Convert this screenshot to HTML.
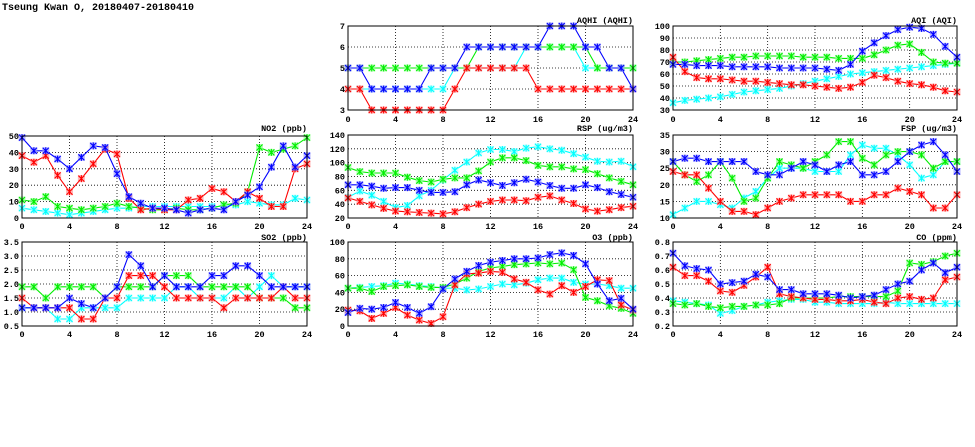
<!DOCTYPE html>
<html><head><meta charset="utf-8"><style>
html,body{margin:0;padding:0;background:#fff;width:975px;height:447px;overflow:hidden}
svg{display:block}
text{font-family:"Liberation Mono",monospace;font-weight:bold;font-size:8.5px;fill:#000}
.t{font-size:10px}
.xl{text-anchor:middle}
.yl{text-anchor:end}
.ti{text-anchor:end}
</style></head><body>
<svg id="s" width="975" height="447" viewBox="0 0 975 447">
<text class="t" x="2" y="10">Tseung Kwan O, 20180407-20180410</text>
<g id="plots"></g>
<text class="ti" x="307" y="131">NO2 (ppb)</text>
<text class="ti" x="307" y="240">SO2 (ppb)</text>
<text class="ti" x="633" y="23">AQHI (AQHI)</text>
<text class="ti" x="633" y="131">RSP (ug/m3)</text>
<text class="ti" x="633" y="240">O3 (ppb)</text>
<text class="ti" x="957" y="23">AQI (AQI)</text>
<text class="ti" x="957" y="131">FSP (ug/m3)</text>
<text class="ti" x="957" y="240">CO (ppm)</text>
<g class="xl">
<text class="xl" x="22" y="229">0</text><text class="xl" x="69.5" y="229">4</text><text class="xl" x="117" y="229">8</text><text class="xl" x="164.5" y="229">12</text><text class="xl" x="212" y="229">16</text><text class="xl" x="259.5" y="229">20</text><text class="xl" x="307" y="229">24</text>
<text class="xl" x="22" y="337">0</text><text class="xl" x="69.5" y="337">4</text><text class="xl" x="117" y="337">8</text><text class="xl" x="164.5" y="337">12</text><text class="xl" x="212" y="337">16</text><text class="xl" x="259.5" y="337">20</text><text class="xl" x="307" y="337">24</text>
<text class="xl" x="348" y="122">0</text><text class="xl" x="395.5" y="122">4</text><text class="xl" x="443" y="122">8</text><text class="xl" x="490.5" y="122">12</text><text class="xl" x="538" y="122">16</text><text class="xl" x="585.5" y="122">20</text><text class="xl" x="633" y="122">24</text>
<text class="xl" x="348" y="229">0</text><text class="xl" x="395.5" y="229">4</text><text class="xl" x="443" y="229">8</text><text class="xl" x="490.5" y="229">12</text><text class="xl" x="538" y="229">16</text><text class="xl" x="585.5" y="229">20</text><text class="xl" x="633" y="229">24</text>
<text class="xl" x="348" y="337">0</text><text class="xl" x="395.5" y="337">4</text><text class="xl" x="443" y="337">8</text><text class="xl" x="490.5" y="337">12</text><text class="xl" x="538" y="337">16</text><text class="xl" x="585.5" y="337">20</text><text class="xl" x="633" y="337">24</text>
<text class="xl" x="673" y="122">0</text><text class="xl" x="720.3" y="122">4</text><text class="xl" x="767.7" y="122">8</text><text class="xl" x="815" y="122">12</text><text class="xl" x="862.3" y="122">16</text><text class="xl" x="909.7" y="122">20</text><text class="xl" x="957" y="122">24</text>
<text class="xl" x="673" y="229">0</text><text class="xl" x="720.3" y="229">4</text><text class="xl" x="767.7" y="229">8</text><text class="xl" x="815" y="229">12</text><text class="xl" x="862.3" y="229">16</text><text class="xl" x="909.7" y="229">20</text><text class="xl" x="957" y="229">24</text>
<text class="xl" x="673" y="337">0</text><text class="xl" x="720.3" y="337">4</text><text class="xl" x="767.7" y="337">8</text><text class="xl" x="815" y="337">12</text><text class="xl" x="862.3" y="337">16</text><text class="xl" x="909.7" y="337">20</text><text class="xl" x="957" y="337">24</text>
</g>
<text class="yl" x="19" y="139">50</text><text class="yl" x="19" y="155.4">40</text><text class="yl" x="19" y="171.8">30</text><text class="yl" x="19" y="188.2">20</text><text class="yl" x="19" y="204.6">10</text><text class="yl" x="19" y="221">0</text>
<text class="yl" x="19" y="245">3.5</text><text class="yl" x="19" y="259">3.0</text><text class="yl" x="19" y="273">2.5</text><text class="yl" x="19" y="287">2.0</text><text class="yl" x="19" y="301">1.5</text><text class="yl" x="19" y="315">1.0</text><text class="yl" x="19" y="329">0.5</text>
<text class="yl" x="345" y="29">7</text><text class="yl" x="345" y="50">6</text><text class="yl" x="345" y="71">5</text><text class="yl" x="345" y="92">4</text><text class="yl" x="345" y="113">3</text>
<text class="yl" x="345" y="138">140</text><text class="yl" x="345" y="151.8">120</text><text class="yl" x="345" y="165.7">100</text><text class="yl" x="345" y="179.5">80</text><text class="yl" x="345" y="193.3">60</text><text class="yl" x="345" y="207.2">40</text><text class="yl" x="345" y="221">20</text>
<text class="yl" x="345" y="245">100</text><text class="yl" x="345" y="261.8">80</text><text class="yl" x="345" y="278.6">60</text><text class="yl" x="345" y="295.4">40</text><text class="yl" x="345" y="312.2">20</text><text class="yl" x="345" y="329">0</text>
<text class="yl" x="670" y="29">100</text><text class="yl" x="670" y="41">90</text><text class="yl" x="670" y="53">80</text><text class="yl" x="670" y="65">70</text><text class="yl" x="670" y="77">60</text><text class="yl" x="670" y="89">50</text><text class="yl" x="670" y="101">40</text><text class="yl" x="670" y="113">30</text>
<text class="yl" x="670" y="138">35</text><text class="yl" x="670" y="154.6">30</text><text class="yl" x="670" y="171.2">25</text><text class="yl" x="670" y="187.8">20</text><text class="yl" x="670" y="204.4">15</text><text class="yl" x="670" y="221">10</text>
<text class="yl" x="670" y="245">0.8</text><text class="yl" x="670" y="259">0.7</text><text class="yl" x="670" y="273">0.6</text><text class="yl" x="670" y="287">0.5</text><text class="yl" x="670" y="301">0.4</text><text class="yl" x="670" y="315">0.3</text><text class="yl" x="670" y="329">0.2</text>
</svg>
<script>
var NS="http://www.w3.org/2000/svg",G=document.getElementById("plots");
function el(n,a){var e=document.createElementNS(NS,n);for(var k in a)e.setAttribute(k,a[k]);G.appendChild(e);return e;}
var C={b:"#0000ff",r:"#ff0000",g:"#00ee00",c:"#00ffff"},L={b:"#9999ff",r:"#ff9999",g:"#99ff99",c:"#aaffff"};
function panel(x0,x1,y0,y1,vmin,vmax,step,series){
 var W=x1-x0,H=y1-y0;
 function X(i){return x0+W*i/24} function Y(v){return y1-H*(v-vmin)/(vmax-vmin)}
 for(var h=4;h<24;h+=4)el("line",{x1:X(h),x2:X(h),y1:y0,y2:y1,stroke:"#000","stroke-width":0.8,"stroke-dasharray":"1,2"});
 for(var v=vmin+step;v<vmax-1e-9;v+=step)el("line",{x1:x0,x2:x1,y1:Y(v),y2:Y(v),stroke:"#000","stroke-width":0.8,"stroke-dasharray":"1,2"});
 ["c","g","r","b"].forEach(function(k){var d=series[k];if(!d)return;
  var p=d.map(function(v,i){return X(i).toFixed(1)+","+Math.min(Y(v),y1+2).toFixed(1)}).join(" ");
  el("polyline",{points:p,fill:"none",stroke:C[k],"stroke-width":1.1});
  d.forEach(function(v,i){var x=X(i),y=Math.min(Y(v),y1+2);
   el("rect",{x:x-3.5,y:y-3.5,width:7,height:7,fill:L[k],opacity:0.7});
   el("path",{d:"M"+(x-3)+" "+(y-3)+"L"+(x+3)+" "+(y+3)+"M"+(x-3)+" "+(y+3)+"L"+(x+3)+" "+(y-3)+"M"+x+" "+(y-3.5)+"L"+x+" "+(y+3.5),stroke:C[k],"stroke-width":1.1});
  });
 });
 el("rect",{x:x0,y:y0,width:W,height:H,fill:"none",stroke:"#000","stroke-width":1});
}
panel(22,307,136,218,0,50,10,{
 b:[49,41,41,36,30,37,44,43,27,13,9,6,6,5,3,5,6,5,10,14,19,31,44,31,38],
 r:[38,34,38,26,16,24,33,42,39,12,5,6,5,5,11,12,18,16,10,16,12,7,7,30,33],
 g:[11,10,13,7,6,5,6,7,9,7,6,5,5,6,5,5,6,8,9,16,43,40,42,44,49],
 c:[6,5,4,3,2,3,4,5,6,6,7,7,7,7,7,7,7,7,8,10,9,8,8,12,11]});
panel(22,307,242,326,0.5,3.5,0.5,{
 b:[1.15,1.15,1.15,1.15,1.5,1.3,1.15,1.5,1.9,3.05,2.65,1.9,2.3,1.9,1.9,1.9,2.3,2.3,2.65,2.65,2.3,1.9,1.9,1.9,1.9],
 g:[1.9,1.9,1.5,1.9,1.9,1.9,1.9,1.5,1.9,1.9,1.9,1.9,2.3,2.3,2.3,1.9,1.9,1.9,1.9,1.9,1.5,1.5,1.5,1.15,1.15],
 c:[1.15,1.15,1.15,0.75,0.75,1.15,1.15,1.15,1.15,1.5,1.5,1.5,1.5,1.9,1.9,1.5,1.5,1.5,1.9,1.5,1.9,2.3,1.9,1.9,1.9],
 r:[1.5,1.15,1.15,1.15,1.15,0.75,0.75,1.5,1.5,2.3,2.3,2.3,1.9,1.5,1.5,1.5,1.5,1.15,1.5,1.5,1.5,1.5,1.9,1.5,1.5]});
panel(348,633,26,110,3,7,1,{
 b:[5,5,4,4,4,4,4,5,5,5,6,6,6,6,6,6,6,7,7,7,6,6,5,5,4],
 g:[5,5,5,5,5,5,5,5,5,5,5,6,6,6,6,6,6,6,6,6,6,5,5,5,5],
 c:[4,4,4,4,4,4,4,4,4,5,5,5,5,5,5,6,6,6,6,6,5,5,5,5,5],
 r:[4,4,3,3,3,3,3,3,3,4,5,5,5,5,5,5,4,4,4,4,4,4,4,4,4]});
panel(348,633,135,218,20,140,20,{
 c:[50,59,53,44,35,38,52,60,75,89,101,114,119,119,116,121,123,120,118,113,108,102,101,102,94],
 g:[93,87,85,85,85,79,74,72,76,78,78,88,101,107,107,103,96,94,94,91,90,84,78,73,68],
 b:[68,68,66,63,64,64,60,57,57,58,68,75,71,67,71,76,72,67,63,63,68,64,58,54,50],
 r:[49,44,39,34,30,29,28,27,26,29,35,40,44,46,46,45,50,52,46,41,33,30,32,35,37]});
panel(348,633,242,326,0,100,20,{
 b:[16,21,20,22,28,22,15,23,44,56,65,72,76,78,80,80,81,85,87,84,74,50,30,33,20],
 r:[19,18,9,15,22,13,7,3,11,49,62,63,65,64,56,52,43,38,48,40,47,55,54,25,19],
 g:[45,45,41,47,48,49,47,46,46,50,57,65,69,71,73,74,75,74,75,67,34,30,24,21,15],
 c:[45,46,47,48,51,50,48,47,45,45,43,44,47,50,49,51,55,57,57,52,50,50,48,45,45]});
panel(673,957,26,110,30,100,10,{
 b:[68,68,67,67,67,66,66,66,66,65,65,65,65,64,63,68,79,86,92,97,99,98,93,83,74],
 g:[70,70,71,72,73,74,74,75,75,75,75,74,74,74,73,73,73,76,80,84,85,78,70,69,69],
 c:[36,38,39,40,41,43,45,46,47,48,50,52,54,56,58,60,61,62,63,64,65,66,67,68,69],
 r:[74,62,57,56,56,55,54,54,53,52,51,51,50,49,48,49,53,59,57,54,52,51,49,46,45]});
panel(673,957,135,218,10,35,5,{
 b:[27,28,28,27,27,27,27,24,23,23,25,27,26,24,26,27,23,23,24,27,30,32,33,29,24],
 g:[27,23,21,23,27,22,15,16,22,27,26,25,27,29,33,33,28,26,29,30,30,29,25,27,27],
 c:[11,13,15,15,14,13,16,18,22,25,25,25,24,24,24,29,32,31,31,29,26,22,23,27,27],
 r:[24,23,23,19,15,12,12,11,13,15,16,17,17,17,17,15,15,17,17,19,18,17,13,13,17]});
panel(673,957,242,326,0.2,0.8,0.1,{
 b:[.72,.63,.61,.60,.50,.51,.52,.57,.55,.46,.46,.43,.43,.43,.42,.40,.41,.42,.46,.50,.52,.60,.65,.58,.62],
 r:[.62,.56,.56,.52,.45,.44,.49,.55,.62,.43,.41,.40,.39,.39,.38,.38,.39,.37,.36,.40,.41,.39,.40,.53,.55],
 g:[.36,.35,.36,.34,.33,.34,.34,.35,.35,.36,.40,.40,.40,.40,.41,.41,.41,.41,.41,.45,.65,.64,.66,.70,.72],
 c:[.38,.37,.36,.35,.29,.31,.34,.35,.37,.38,.39,.39,.37,.37,.36,.36,.36,.36,.37,.36,.36,.36,.36,.36,.36]});
</script>
</body></html>
